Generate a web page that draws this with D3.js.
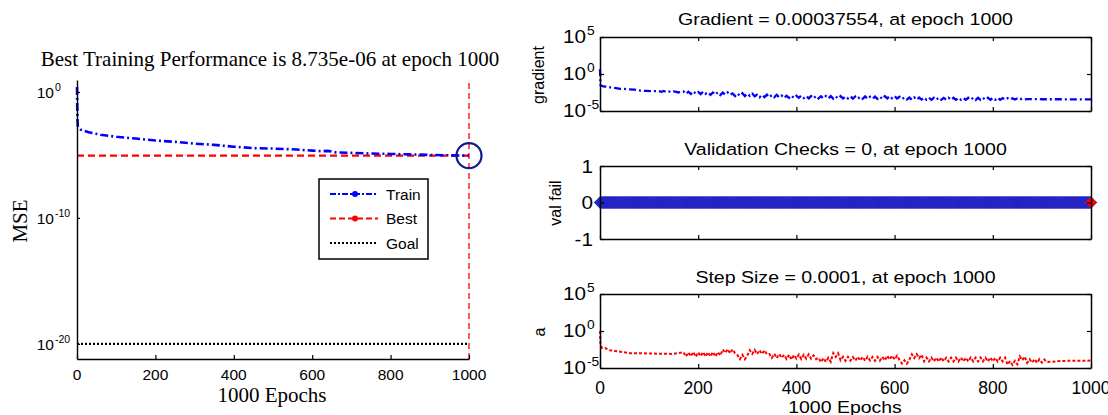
<!DOCTYPE html>
<html>
<head>
<meta charset="utf-8">
<script src="https://cdn.jsdelivr.net/npm/d3@7"></script>
<style>
  body { margin: 0; background: #fff; overflow: hidden; }
  svg { display: block; }
  text { fill: #000; }
</style>
</head>
<body>
<svg id="chart" width="1108" height="415"></svg>
<script>
// ---------- training record ----------
const epochTicks = [0, 200, 400, 600, 800, 1000];

// Performance (MSE) on the training set
const trainEpochs = [0, 1, 2, 5, 10, 30, 60, 100, 150, 200, 250, 300, 350, 400, 450, 500,
  550, 600, 625, 640, 660, 700, 750, 800, 850, 900, 950, 1000];
const trainMSE = [2.5, 1.0e-2, 2.0e-3, 1.4e-3, 1.0e-3, 6.3e-4, 4.0e-4, 2.8e-4, 2.0e-4, 1.4e-4,
  1.1e-4, 7.9e-5, 6.3e-5, 4.5e-5, 3.5e-5, 3.2e-5, 2.8e-5, 2.2e-5, 2.0e-5, 2.1e-5, 1.6e-5,
  1.45e-5, 1.3e-5, 1.2e-5, 1.1e-5, 1.0e-5, 9.3e-6, 8.735e-6];
const bestEpoch = 1000;
const bestMSE = 8.735e-6;
const goalMSE = 1e-20;
const perfTicks = [1e0, 1e-10, 1e-20];

// Gradient
const gradEpochs = [0, 1, 2, 4, 7, 10, 15, 20, 30, 41, 50, 60, 70, 82, 95, 108,
  ...d3.range(120, 871, 5), 900, 940, 970, 1000];
const gradValues = [4.4, 3.2e-2, 2.6e-2, 2.4e-2, 2.2e-2, 2.0e-2, 1.9e-2, 1.6e-2, 1.3e-2, 1.0e-2,
  9.5e-3, 8.5e-3, 7.6e-3, 5.6e-3, 5.2e-3, 4.9e-3,
  4.7e-3, 3.9e-3, 5.0e-3, 3.6e-3, 4.3e-3, 3.4e-3, 4.4e-3, 3.8e-3, 3.2e-3, 4.1e-3,
  4.4e-3, 2.1e-3, 4.0e-3, 2.0e-3, 4.5e-3, 2.2e-3, 3.8e-3, 1.9e-3, 4.2e-3, 2.1e-3,
  3.3e-3, 1.5e-3, 3.2e-3, 1.6e-3, 3.4e-3, 1.45e-3, 3.0e-3, 1.55e-3, 3.2e-3, 1.5e-3,
  2.4e-3, 1.07e-3, 2.3e-3, 1.1e-3, 2.5e-3, 1.05e-3, 2.2e-3, 1.1e-3, 2.3e-3, 1.0e-3,
  1.6e-3, 7.2e-4, 1.5e-3, 7.6e-4, 1.6e-3, 7.1e-4, 1.45e-3, 7.4e-4, 1.55e-3, 6.9e-4,
  1.2e-3, 5.6e-4, 1.15e-3, 5.9e-4, 1.23e-3, 5.5e-4, 1.12e-3, 6.0e-4, 1.17e-3, 5.6e-4,
  1.07e-3, 5.0e-4, 1.02e-3, 5.2e-4, 1.1e-3, 4.9e-4, 1.0e-3, 5.1e-4, 1.05e-3, 5.0e-4,
  1.0e-3, 4.7e-4, 9.5e-4, 4.9e-4, 1.02e-3, 4.8e-4, 9.3e-4, 5.0e-4, 9.8e-4, 4.7e-4,
  9.1e-4, 4.4e-4, 8.7e-4, 4.5e-4, 9.3e-4, 4.3e-4, 8.5e-4, 4.6e-4, 8.9e-4, 4.4e-4,
  8.7e-4, 4.2e-4, 1.0e-3, 5.0e-4, 1.05e-3, 5.2e-4, 1.0e-3, 4.9e-4, 8.3e-4, 4.0e-4,
  6.8e-4, 3.5e-4, 6.6e-4, 3.4e-4, 6.9e-4, 3.3e-4, 6.5e-4, 3.5e-4, 6.6e-4, 3.3e-4,
  6.2e-4, 3.2e-4, 6.0e-4, 3.3e-4, 6.3e-4, 3.2e-4, 5.9e-4, 3.4e-4, 6.2e-4, 3.2e-4,
  6.0e-4, 3.2e-4, 6.2e-4, 3.3e-4, 5.9e-4, 3.2e-4, 6.1e-4, 3.3e-4, 6.0e-4, 3.1e-4,
  6.1e-4, 3.2e-4, 5.9e-4, 3.3e-4, 6.2e-4, 3.2e-4, 6.0e-4, 3.3e-4, 6.1e-4, 3.2e-4,
  5.5e-4, 3.4e-4, 5.4e-4, 3.5e-4, 5.2e-4, 3.5e-4, 5.0e-4, 3.6e-4, 4.8e-4, 3.7e-4,
  4.0e-4, 3.9e-4, 3.85e-4, 3.8e-4, 3.7554e-4];
const gradTicks = [1e-5, 1e0, 1e5];

// Validation failures: runs of [fromEpoch, toEpoch, count]
const valFailRuns = [[0, 1000, 0]];
const valTicks = [-1, 0, 1];

// Step size (mu)
const stepEpochs = [0, 1, 2, 4, 10, 20, 30, 41, 61, 82, 100, 122, 150,
  ...d3.range(170, 911, 5), 940, 970, 1000];
const stepValues = [1.0, 2.0e-2, 1.2e-2, 5.0e-3, 5.0e-3, 2.5e-3, 2.0e-3, 1.6e-3, 1.0e-3, 1.0e-3,
  9.0e-4, 8.5e-4, 8.0e-4,
  1.4e-3, 3.5e-4, 1.26e-3, 3.8e-4, 1.5e-3, 3.3e-4, 1.3e-3, 4.0e-4, 1.4e-3, 3.5e-4,
  1.35e-3, 3.6e-4, 1.45e-3, 3.4e-4, 1.4e-3, 5.0e-4, 3.2e-3, 1.1e-3, 3.5e-3, 9.5e-4,
  3.3e-3, 1.0e-3, 5.6e-4, 1.6e-4, 6.0e-4, 1.5e-4, 5.0e-4, 2.5e-3, 7.9e-4, 2.8e-3,
  7.6e-4, 2.6e-3, 7.9e-4, 2.5e-3, 7.1e-4, 7.9e-4, 2.4e-4, 8.3e-4, 2.2e-4, 7.9e-4,
  2.4e-4, 6.0e-4, 1.6e-4, 6.3e-4, 1.4e-4, 5.6e-4, 1.8e-4, 6.6e-4, 1.6e-4, 6.3e-4,
  1.9e-4, 7.1e-4, 1.8e-4, 5.0e-4, 1.6e-4, 2.4e-4, 6.3e-5, 2.2e-4, 6.6e-5, 2.4e-4,
  7.1e-5, 1.05e-3, 3.2e-4, 1.0e-3, 1.1e-4, 3.2e-4, 9.5e-5, 3.3e-4, 1.0e-4, 3.0e-4,
  9.5e-5, 3.3e-4, 1.0e-4, 3.2e-4, 9.3e-5, 3.4e-4, 1.02e-4, 3.1e-4, 9.5e-5, 3.2e-4,
  1.0e-4, 3.2e-4, 1.05e-4, 4.5e-4, 1.4e-4, 4.7e-4, 1.35e-4, 4.5e-4, 1.26e-4, 4.0e-5,
  1.1e-4, 3.8e-5, 1.26e-4, 7.1e-4, 2.2e-4, 7.6e-4, 2.1e-4, 6.3e-4, 7.9e-5, 2.5e-4,
  7.6e-5, 2.6e-4, 7.9e-5, 2.5e-4, 7.4e-5, 2.7e-4, 8.1e-5, 2.45e-4, 7.6e-5, 2.6e-4,
  8.0e-5, 2.5e-4, 7.5e-5, 2.6e-4, 7.8e-5, 2.4e-4, 7.4e-5, 2.6e-4, 8.0e-5, 2.5e-4,
  7.6e-5, 2.6e-4, 7.9e-5, 2.5e-4, 7.4e-5, 2.6e-4, 7.8e-5, 2.4e-4, 7.5e-5, 2.5e-4,
  7.9e-5, 2.4e-4, 2.8e-5, 8.9e-5, 2.6e-5, 9.5e-5, 3.2e-5, 3.8e-4, 1.1e-4, 3.5e-4,
  5.0e-5, 1.5e-4, 5.2e-5, 1.6e-4, 4.8e-5, 1.5e-4, 5.4e-5, 1.4e-4, 6.3e-5,
  9.0e-5, 9.5e-5, 1.0e-4];
const stepTicks = [1e-5, 1e0, 1e5];

// ---------- drawing ----------
const SANS = "'Liberation Sans', Arial, Helvetica, sans-serif";
const SERIF = "'Liberation Serif', 'Times New Roman', serif";
const svg = d3.select("#chart");

function zip(xs, ys) { return xs.map((e, i) => [e, ys[i]]); }

// horizontal text that can be widened a little (sx) without changing its height
function label(g, x, y, str, opts) {
  const o = Object.assign({ size: 17, anchor: "middle", sx: 1, family: SANS }, opts || {});
  return g.append("text")
    .attr("transform", `translate(${x},${y}) scale(${o.sx},1)`)
    .attr("text-anchor", o.anchor)
    .attr("font-family", o.family)
    .attr("font-size", o.size)
    .text(str);
}

// power-of-ten tick label: "10" with a raised exponent
function powLabel(g, xRight, y, value, size, supSize, sx) {
  const exp = Math.round(Math.log10(value));
  g.append("text")
    .attr("transform", `translate(${xRight},${y}) scale(${sx},1)`)
    .attr("font-family", SANS).attr("font-size", size).attr("text-anchor", "end")
    .text("10");
  g.append("text")
    .attr("transform", `translate(${xRight + 1},${y - size * 0.42}) scale(${sx},1)`)
    .attr("font-family", SANS)
    .attr("font-size", supSize)
    .text(String(exp));
}

function styleAxis(sel, w) {
  sel.selectAll("path.domain").attr("stroke", "#000").attr("stroke-width", w);
  sel.selectAll(".tick line").attr("stroke", "#000").attr("stroke-width", 1.2);
  sel.selectAll(".tick text").remove();
}

// ===== left: performance =====
const L = { left: 77, right: 469, top: 80, bottom: 359 };
const xP = d3.scaleLinear().domain([0, 1000]).range([L.left, L.right]);
const yP = d3.scaleLog().domain([10 ** -21.2, 10 ** 0.95]).range([L.bottom, L.top]);
const gL = svg.append("g");

const lineP = d3.line().x(d => xP(d[0])).y(d => yP(d[1]));
gL.append("path").datum([[0, goalMSE], [1000, goalMSE]]).attr("d", lineP)
  .attr("fill", "none").attr("stroke", "#000").attr("stroke-width", 2.4).attr("stroke-dasharray", "2,2");
gL.append("path").datum([[0, bestMSE], [bestEpoch, bestMSE]]).attr("d", lineP)
  .attr("fill", "none").attr("stroke", "#ff0000").attr("stroke-width", 2.2).attr("stroke-dasharray", "7,4");
gL.append("line")
  .attr("x1", xP(bestEpoch)).attr("x2", xP(bestEpoch))
  .attr("y1", yP.range()[0]).attr("y2", yP.range()[1])
  .attr("stroke", "#ff0000").attr("stroke-width", 1.3).attr("stroke-dasharray", "6,4");
gL.append("path").datum(zip(trainEpochs, trainMSE)).attr("d", lineP)
  .attr("fill", "none").attr("stroke", "#0000ff").attr("stroke-width", 2.6)
  .attr("stroke-dasharray", "8,3,2,3");
gL.append("circle").attr("cx", xP(bestEpoch)).attr("cy", yP(bestMSE)).attr("r", 12.5)
  .attr("fill", "none").attr("stroke", "#121a8e").attr("stroke-width", 2.2);

// axes (left and bottom only)
gL.append("g").attr("transform", `translate(${L.left},0)`)
  .call(d3.axisLeft(yP).tickValues(perfTicks).tickSize(-3).tickSizeOuter(0))
  .call(styleAxis, 1.4);
gL.append("g").attr("transform", `translate(0,${L.bottom})`)
  .call(d3.axisBottom(xP).tickValues(epochTicks).tickSize(-4).tickSizeOuter(0))
  .call(styleAxis, 1.4);

perfTicks.forEach(v => powLabel(gL, 54, yP(v) + 6, v, 15.5, 10.5, 1));
epochTicks.forEach(v => label(gL, xP(v), 380, String(v), { size: 15.5 }));

label(gL, 270, 66, "Best Training Performance is 8.735e-06 at epoch 1000", { size: 21, family: SERIF });
label(gL, 272, 402, "1000 Epochs", { size: 21, family: SERIF });
gL.append("text").attr("transform", "translate(27,221) rotate(-90)")
  .attr("text-anchor", "middle").attr("font-family", SERIF).attr("font-size", 21).text("MSE");

// legend
const leg = gL.append("g");
leg.append("rect").attr("x", 319).attr("y", 179).attr("width", 109).attr("height", 80)
  .attr("fill", "#fff").attr("stroke", "#000").attr("stroke-width", 1.5);
const legendItems = [
  { name: "Train", color: "#0000ff", dash: "6,2,2,2", dot: true },
  { name: "Best", color: "#ff0000", dash: "6,3", dot: true },
  { name: "Goal", color: "#000", dash: "2,2", dot: false }
];
legendItems.forEach((it, i) => {
  const y = 194 + i * 24.5;
  leg.append("line").attr("x1", 330).attr("x2", 378).attr("y1", y).attr("y2", y)
    .attr("stroke", it.color).attr("stroke-width", 2.2).attr("stroke-dasharray", it.dash);
  if (it.dot) leg.append("circle").attr("cx", 355).attr("cy", y).attr("r", 3).attr("fill", it.color);
  label(leg, 386, y + 5.5, it.name, { size: 15.5, anchor: "start" });
});

// ===== right: training state =====
const R = { left: 600, right: 1091 };
const xR = d3.scaleLinear().domain([0, 1000]).range([R.left, R.right]);
const SX = 1.15;
const gR = svg.append("g");

function panel(top, bottom, title, titleY) {
  const g = gR.append("g");
  g.append("rect").attr("x", R.left).attr("y", top)
    .attr("width", R.right - R.left).attr("height", bottom - top)
    .attr("fill", "#fff");
  label(g, (R.left + R.right) / 2, titleY, title, { size: 17, sx: SX });
  return g;
}

function frame(g, top, bottom, yScale, yTicks) {
  g.append("g").attr("transform", `translate(0,${bottom})`)
    .call(d3.axisBottom(xR).tickValues(epochTicks).tickSize(-4).tickSizeOuter(0)).call(styleAxis, 1.5);
  g.append("g").attr("transform", `translate(0,${top})`)
    .call(d3.axisTop(xR).tickValues(epochTicks).tickSize(-4).tickSizeOuter(0)).call(styleAxis, 1.5);
  g.append("g").attr("transform", `translate(${R.left},0)`)
    .call(d3.axisLeft(yScale).tickValues(yTicks).tickSize(-4).tickSizeOuter(0)).call(styleAxis, 1.5);
  g.append("g").attr("transform", `translate(${R.right},0)`)
    .call(d3.axisRight(yScale).tickValues(yTicks).tickSize(-4).tickSizeOuter(0)).call(styleAxis, 1.5);
}

function yLabel(g, x, y, str) {
  g.append("text").attr("transform", `translate(${x},${y}) rotate(-90)`)
    .attr("text-anchor", "middle").attr("font-family", SANS).attr("font-size", 16).text(str);
}

// -- gradient
const yG = d3.scaleLog().domain([1e-5, 1e5]).range([111, 37]);
const gG = panel(37, 111, `Gradient = ${gradValues[gradValues.length - 1]}, at epoch 1000`, 25);
gG.append("path").datum(zip(gradEpochs, gradValues))
  .attr("d", d3.line().x(d => xR(d[0])).y(d => yG(d[1])))
  .attr("fill", "none").attr("stroke", "#0000ff").attr("stroke-width", 2.3)
  .attr("stroke-dasharray", "7,3,2,3");
frame(gG, 37, 111, yG, gradTicks);
gradTicks.forEach(v => powLabel(gG, 586, yG(v) + 6, v, 18, 12, SX));
yLabel(gG, 544, 75, "gradient");

// -- validation checks
const yV = d3.scaleLinear().domain([-1, 1]).range([239, 166]);
const valPoints = valFailRuns.flatMap(([a, b, c]) => d3.range(a, b + 1).map(e => [e, c]));
const gV = panel(166, 239, "Validation Checks = 0, at epoch 1000", 155);
const diamond = d3.symbol(d3.symbolSquare, 70);
gV.append("g").selectAll("path").data(valPoints).join("path")
  .attr("d", diamond)
  .attr("transform", d => `translate(${xR(d[0])},${yV(d[1])}) rotate(45)`)
  .attr("fill", "#3232b4").attr("stroke", "#1c1cd8").attr("stroke-width", 0.35);
const lastVal = valPoints[valPoints.length - 1];
gV.append("path").attr("d", d3.symbol(d3.symbolSquare, 56))
  .attr("transform", `translate(${xR(lastVal[0])},${yV(lastVal[1])}) rotate(45)`)
  .attr("fill", "#ff0000").attr("stroke", "#ff0000").attr("stroke-width", 0.8);
frame(gV, 166, 239, yV, valTicks);
valTicks.forEach(v => label(gV, 593, yV(v) + 6.5, String(v), { size: 18, anchor: "end", sx: SX }));
yLabel(gV, 561, 203, "val fail");

// -- step size
const yS = d3.scaleLog().domain([1e-5, 1e5]).range([368, 294]);
const gS = panel(294, 368, `Step Size = ${stepValues[stepValues.length - 1]}, at epoch 1000`, 283);
gS.append("path").datum(zip(stepEpochs, stepValues))
  .attr("d", d3.line().x(d => xR(d[0])).y(d => yS(d[1])))
  .attr("fill", "none").attr("stroke", "#ff0000").attr("stroke-width", 2)
  .attr("stroke-dasharray", "3,2");
frame(gS, 294, 368, yS, stepTicks);
stepTicks.forEach(v => powLabel(gS, 586, yS(v) + 6, v, 18, 12, SX));
yLabel(gS, 545, 332, "a");
epochTicks.forEach(v => label(gS, xR(v), 393.5, String(v), { size: 17.5 }));
label(gS, 845, 412.5, "1000 Epochs", { size: 16.5, sx: 1.18 });
</script>
</body>
</html>
